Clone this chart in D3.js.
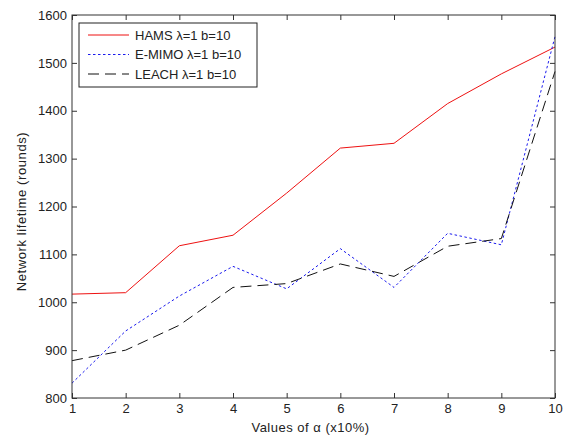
<!DOCTYPE html>
<html>
<head>
<meta charset="UTF-8">
<script src="https://d3js.org/d3.v7.min.js"></script>
<style>
  body { margin: 0; background: #fff; font-family: "Liberation Sans", Arial, sans-serif; }
</style>
</head>
<body>
<div id="chart"></div>
<script>
  const alphaValues = [1, 2, 3, 4, 5, 6, 7, 8, 9, 10];
  const hams  = [1017, 1020, 1118, 1140, 1228, 1322, 1332, 1415, 1477, 1533];
  const emimo = [831, 940, 1013, 1075, 1028, 1112, 1031, 1144, 1120, 1555];
  const leach = [878, 900, 952, 1031, 1039, 1080, 1054, 1117, 1133, 1482];
  const yTicks = [800, 900, 1000, 1100, 1200, 1300, 1400, 1500, 1600];
  const seriesNames = ["HAMS \u03bb=1 b=10", "E-MIMO \u03bb=1 b=10", "LEACH \u03bb=1 b=10"];

  const W = 564, H = 437;
  const margin = { top: 15, right: 9, bottom: 39, left: 72 };
  const width = W - margin.left - margin.right,
        height = H - margin.top - margin.bottom;

  const svg = d3.select("#chart").append("svg")
      .attr("width", W).attr("height", H)
    .append("g")
      .attr("transform", `translate(${margin.left},${margin.top})`);

  const x = d3.scaleLinear().domain([1, 10]).range([0, width]);
  const y = d3.scaleLinear().domain([800, 1600]).range([height, 0]);

  const series = [
    { name: seriesNames[0], values: hams,  color: "#ee1111", dash: null },
    { name: seriesNames[1], values: emimo, color: "#1a1aee", dash: "2.5,2.5" },
    { name: seriesNames[2], values: leach, color: "#111111", dash: "11,6" }
  ];

  const line = d3.line().x((d, i) => x(alphaValues[i])).y(d => y(d));

  series.forEach(s => {
    svg.append("path")
      .datum(s.values)
      .attr("fill", "none")
      .attr("stroke", s.color)
      .attr("stroke-width", 1)
      .attr("stroke-dasharray", s.dash)
      .attr("d", line);
  });

  // axes, MATLAB style box with inward ticks
  const axisColor = "#333";
  const styleAxis = g => {
    g.select(".domain").remove();
    g.selectAll("line").attr("stroke", axisColor);
    g.selectAll("text").attr("fill", "#222").style("font-size", "13px")
      .style("font-family", "'Liberation Sans', Arial, sans-serif");
  };

  svg.append("g")
    .attr("transform", `translate(0,${height})`)
    .call(d3.axisBottom(x).tickValues(alphaValues).tickSizeInner(-5).tickSizeOuter(0).tickPadding(6))
    .call(styleAxis);

  svg.append("g")
    .call(d3.axisTop(x).tickValues(alphaValues).tickSizeInner(-5).tickSizeOuter(0).tickFormat(""))
    .call(styleAxis);

  svg.append("g")
    .call(d3.axisLeft(y).tickValues(yTicks).tickSizeInner(-5).tickSizeOuter(0).tickPadding(5).tickFormat(d3.format("d")))
    .call(styleAxis);

  svg.append("g")
    .attr("transform", `translate(${width},0)`)
    .call(d3.axisRight(y).tickValues(yTicks).tickSizeInner(-5).tickSizeOuter(0).tickFormat(""))
    .call(styleAxis);

  svg.append("rect")
    .attr("width", width).attr("height", height)
    .attr("fill", "none").attr("stroke", axisColor).attr("stroke-width", 1);

  // axis titles
  svg.append("text")
    .attr("x", width / 2 - 3).attr("y", height + 34)
    .attr("text-anchor", "middle")
    .style("font-size", "13px").style("letter-spacing", "0.5px").attr("fill", "#222")
    .text("Values of \u03b1 (x10%)");

  svg.append("text")
    .attr("transform", "rotate(-90)")
    .attr("x", -height / 2 - 5).attr("y", -46)
    .attr("text-anchor", "middle")
    .style("font-size", "13px").style("letter-spacing", "0.6px").attr("fill", "#222")
    .text("Network lifetime (rounds)");

  // legend
  const legend = svg.append("g").attr("transform", "translate(7,8)");
  legend.append("rect")
    .attr("width", 178).attr("height", 64)
    .attr("fill", "#fff").attr("stroke", "#222").attr("stroke-width", 1);

  series.forEach((s, i) => {
    const ly = 12 + i * 19.5;
    legend.append("line")
      .attr("x1", 9).attr("x2", 50).attr("y1", ly).attr("y2", ly)
      .attr("stroke", s.color).attr("stroke-dasharray", s.dash);
    legend.append("text")
      .attr("x", 56).attr("y", ly + 4.5)
      .style("font-size", "13px").attr("fill", "#222")
      .text(s.name);
  });
</script>
</body>
</html>
